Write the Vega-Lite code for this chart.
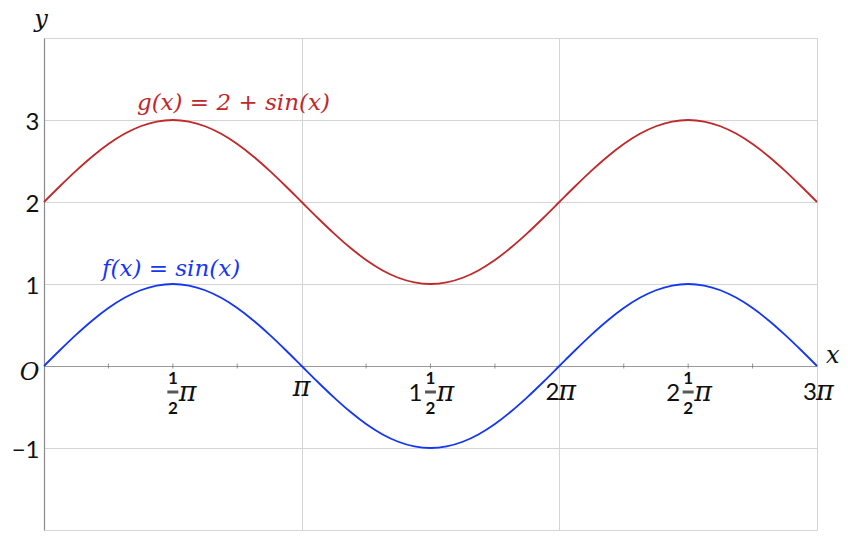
{
  "$schema": "https://vega.github.io/schema/vega-lite/v6.json",
  "width": 773,
  "height": 492,
  "autosize": "none",
  "padding": {"left": 44, "top": 38, "right": 31, "bottom": 14},
  "config": {"view": {"stroke": null}, "font": "Lato"},
  "datasets": {
    "curves": [
      {"fn": "f", "t": 0, "v": 0}, {"fn": "f", "t": 0.0625, "v": 0.1951}, {"fn": "f", "t": 0.125, "v": 0.3827}, {"fn": "f", "t": 0.1875, "v": 0.5556},
      {"fn": "f", "t": 0.25, "v": 0.7071}, {"fn": "f", "t": 0.3125, "v": 0.8315}, {"fn": "f", "t": 0.375, "v": 0.9239}, {"fn": "f", "t": 0.4375, "v": 0.9808},
      {"fn": "f", "t": 0.5, "v": 1}, {"fn": "f", "t": 0.5625, "v": 0.9808}, {"fn": "f", "t": 0.625, "v": 0.9239}, {"fn": "f", "t": 0.6875, "v": 0.8315},
      {"fn": "f", "t": 0.75, "v": 0.7071}, {"fn": "f", "t": 0.8125, "v": 0.5556}, {"fn": "f", "t": 0.875, "v": 0.3827}, {"fn": "f", "t": 0.9375, "v": 0.1951},
      {"fn": "f", "t": 1, "v": 0}, {"fn": "f", "t": 1.0625, "v": -0.1951}, {"fn": "f", "t": 1.125, "v": -0.3827}, {"fn": "f", "t": 1.1875, "v": -0.5556},
      {"fn": "f", "t": 1.25, "v": -0.7071}, {"fn": "f", "t": 1.3125, "v": -0.8315}, {"fn": "f", "t": 1.375, "v": -0.9239}, {"fn": "f", "t": 1.4375, "v": -0.9808},
      {"fn": "f", "t": 1.5, "v": -1}, {"fn": "f", "t": 1.5625, "v": -0.9808}, {"fn": "f", "t": 1.625, "v": -0.9239}, {"fn": "f", "t": 1.6875, "v": -0.8315},
      {"fn": "f", "t": 1.75, "v": -0.7071}, {"fn": "f", "t": 1.8125, "v": -0.5556}, {"fn": "f", "t": 1.875, "v": -0.3827}, {"fn": "f", "t": 1.9375, "v": -0.1951},
      {"fn": "f", "t": 2, "v": 0}, {"fn": "f", "t": 2.0625, "v": 0.1951}, {"fn": "f", "t": 2.125, "v": 0.3827}, {"fn": "f", "t": 2.1875, "v": 0.5556},
      {"fn": "f", "t": 2.25, "v": 0.7071}, {"fn": "f", "t": 2.3125, "v": 0.8315}, {"fn": "f", "t": 2.375, "v": 0.9239}, {"fn": "f", "t": 2.4375, "v": 0.9808},
      {"fn": "f", "t": 2.5, "v": 1}, {"fn": "f", "t": 2.5625, "v": 0.9808}, {"fn": "f", "t": 2.625, "v": 0.9239}, {"fn": "f", "t": 2.6875, "v": 0.8315},
      {"fn": "f", "t": 2.75, "v": 0.7071}, {"fn": "f", "t": 2.8125, "v": 0.5556}, {"fn": "f", "t": 2.875, "v": 0.3827}, {"fn": "f", "t": 2.9375, "v": 0.1951},
      {"fn": "f", "t": 3, "v": 0},
      {"fn": "g", "t": 0, "v": 2}, {"fn": "g", "t": 0.0625, "v": 2.1951}, {"fn": "g", "t": 0.125, "v": 2.3827}, {"fn": "g", "t": 0.1875, "v": 2.5556},
      {"fn": "g", "t": 0.25, "v": 2.7071}, {"fn": "g", "t": 0.3125, "v": 2.8315}, {"fn": "g", "t": 0.375, "v": 2.9239}, {"fn": "g", "t": 0.4375, "v": 2.9808},
      {"fn": "g", "t": 0.5, "v": 3}, {"fn": "g", "t": 0.5625, "v": 2.9808}, {"fn": "g", "t": 0.625, "v": 2.9239}, {"fn": "g", "t": 0.6875, "v": 2.8315},
      {"fn": "g", "t": 0.75, "v": 2.7071}, {"fn": "g", "t": 0.8125, "v": 2.5556}, {"fn": "g", "t": 0.875, "v": 2.3827}, {"fn": "g", "t": 0.9375, "v": 2.1951},
      {"fn": "g", "t": 1, "v": 2}, {"fn": "g", "t": 1.0625, "v": 1.8049}, {"fn": "g", "t": 1.125, "v": 1.6173}, {"fn": "g", "t": 1.1875, "v": 1.4444},
      {"fn": "g", "t": 1.25, "v": 1.2929}, {"fn": "g", "t": 1.3125, "v": 1.1685}, {"fn": "g", "t": 1.375, "v": 1.0761}, {"fn": "g", "t": 1.4375, "v": 1.0192},
      {"fn": "g", "t": 1.5, "v": 1}, {"fn": "g", "t": 1.5625, "v": 1.0192}, {"fn": "g", "t": 1.625, "v": 1.0761}, {"fn": "g", "t": 1.6875, "v": 1.1685},
      {"fn": "g", "t": 1.75, "v": 1.2929}, {"fn": "g", "t": 1.8125, "v": 1.4444}, {"fn": "g", "t": 1.875, "v": 1.6173}, {"fn": "g", "t": 1.9375, "v": 1.8049},
      {"fn": "g", "t": 2, "v": 2}, {"fn": "g", "t": 2.0625, "v": 2.1951}, {"fn": "g", "t": 2.125, "v": 2.3827}, {"fn": "g", "t": 2.1875, "v": 2.5556},
      {"fn": "g", "t": 2.25, "v": 2.7071}, {"fn": "g", "t": 2.3125, "v": 2.8315}, {"fn": "g", "t": 2.375, "v": 2.9239}, {"fn": "g", "t": 2.4375, "v": 2.9808},
      {"fn": "g", "t": 2.5, "v": 3}, {"fn": "g", "t": 2.5625, "v": 2.9808}, {"fn": "g", "t": 2.625, "v": 2.9239}, {"fn": "g", "t": 2.6875, "v": 2.8315},
      {"fn": "g", "t": 2.75, "v": 2.7071}, {"fn": "g", "t": 2.8125, "v": 2.5556}, {"fn": "g", "t": 2.875, "v": 2.3827}, {"fn": "g", "t": 2.9375, "v": 2.1951},
      {"fn": "g", "t": 3, "v": 2}
    ],
    "minor": [
      {"t": 0.25}, {"t": 0.5}, {"t": 0.75}, {"t": 1.25}, {"t": 1.5}, {"t": 1.75},
      {"t": 2.25}, {"t": 2.5}, {"t": 2.75}
    ],
    "xlab": [
      {"t": 0.5, "kind": "frac", "lead": "", "num": "1", "den": "2"},
      {"t": 1, "kind": "pi", "lead": ""},
      {"t": 1.5, "kind": "frac", "lead": "1", "num": "1", "den": "2"},
      {"t": 2, "kind": "mult", "lead": "2"},
      {"t": 2.5, "kind": "frac", "lead": "2", "num": "1", "den": "2"},
      {"t": 3, "kind": "mult", "lead": "3"}
    ],
    "names": [
      {"fn": "g", "t": 0.735, "v": 3.12, "label": "g(x) = 2 + sin(x)"},
      {"fn": "f", "t": 0.493, "v": 1.1, "label": "f(x) = sin(x)"}
    ],
    "letters": [
      {"name": "x", "t": 3, "v": 0},
      {"name": "y", "t": 0, "v": 4}
    ]
  },
  "layer": [
    {
      "data": {"name": "curves"},
      "mark": {"type": "line", "interpolate": "monotone", "strokeWidth": 1.8},
      "encoding": {
        "x": {
          "field": "t", "type": "quantitative",
          "scale": {"domain": [0, 3], "nice": false, "zero": false},
          "axis": {"values": [1, 2, 3], "grid": true, "gridColor": "#d4d4d4", "labels": false, "ticks": false, "domain": false, "title": null}
        },
        "y": {
          "field": "v", "type": "quantitative",
          "scale": {"domain": [-2, 4], "nice": false, "zero": false},
          "axis": {
            "values": [-2, -1, 0, 1, 2, 3, 4],
            "title": null,
            "grid": true,
            "gridColor": {"condition": {"test": "datum.value === 0", "value": "#9a9a9a"}, "value": "#d4d4d4"},
            "domain": true, "domainColor": "#8a8a8a", "domainWidth": 1.2,
            "ticks": false,
            "labelPadding": 5,
            "labelFontSize": 24,
            "labelColor": "#111111",
            "labelBaseline": "middle",
            "labelOffset": {"condition": {"test": "datum.value === 0", "value": 6}, "value": 2},
            "labelFont": {"condition": {"test": "datum.value === 0", "value": "DejaVu Serif"}, "value": "Lato"},
            "labelFontStyle": {"condition": {"test": "datum.value === 0", "value": "italic"}, "value": "normal"},
            "labelExpr": "datum.value === 4 || datum.value === -2 ? '' : datum.value === 0 ? 'O' : datum.value < 0 ? '\u2212' + abs(datum.value) : '' + datum.value"
          }
        },
        "color": {"field": "fn", "type": "nominal", "scale": {"domain": ["f", "g"], "range": ["#1436f5", "#c0282a"]}, "legend": null}
      }
    },
    {
      "data": {"name": "minor"},
      "mark": {"type": "tick", "orient": "vertical", "size": 5, "thickness": 1, "color": "#6a6a6a"},
      "encoding": {"x": {"field": "t", "type": "quantitative"}, "y": {"datum": 0}}
    },
    {
      "data": {"name": "xlab"},
      "transform": [{"filter": "datum.kind === 'frac'"}],
      "mark": {"type": "text", "font": "Lato", "fontSize": 17, "fontWeight": "bold", "align": "center", "baseline": "alphabetic", "dy": 18, "color": "#111111"},
      "encoding": {"x": {"field": "t", "type": "quantitative"}, "y": {"datum": 0}, "text": {"field": "num"}}
    },
    {
      "data": {"name": "xlab"},
      "transform": [{"filter": "datum.kind === 'frac'"}],
      "mark": {"type": "text", "font": "Lato", "fontSize": 17, "fontWeight": "bold", "align": "center", "baseline": "alphabetic", "dy": 48, "color": "#111111"},
      "encoding": {"x": {"field": "t", "type": "quantitative"}, "y": {"datum": 0}, "text": {"field": "den"}}
    },
    {
      "data": {"name": "xlab"},
      "transform": [{"filter": "datum.kind === 'frac'"}],
      "mark": {"type": "tick", "orient": "horizontal", "size": 11, "thickness": 3, "yOffset": 26, "color": "#111111"},
      "encoding": {"x": {"field": "t", "type": "quantitative"}, "y": {"datum": 0}}
    },
    {
      "data": {"name": "xlab"},
      "transform": [{"filter": "datum.kind === 'frac'"}],
      "mark": {"type": "text", "font": "Lato", "fontSize": 24, "align": "right", "baseline": "alphabetic", "dx": -8, "dy": 35, "color": "#111111"},
      "encoding": {"x": {"field": "t", "type": "quantitative"}, "y": {"datum": 0}, "text": {"field": "lead"}}
    },
    {
      "data": {"name": "xlab"},
      "transform": [{"filter": "datum.kind === 'frac'"}],
      "mark": {"type": "text", "text": "π", "font": "DejaVu Serif", "fontStyle": "italic", "fontSize": 27, "align": "left", "baseline": "alphabetic", "dx": 6, "dy": 35, "color": "#111111"},
      "encoding": {"x": {"field": "t", "type": "quantitative"}, "y": {"datum": 0}}
    },
    {
      "data": {"name": "xlab"},
      "transform": [{"filter": "datum.kind === 'pi'"}],
      "mark": {"type": "text", "text": "π", "font": "DejaVu Serif", "fontStyle": "italic", "fontSize": 27, "align": "center", "baseline": "alphabetic", "dy": 30, "color": "#111111"},
      "encoding": {"x": {"field": "t", "type": "quantitative"}, "y": {"datum": 0}}
    },
    {
      "data": {"name": "xlab"},
      "transform": [{"filter": "datum.kind === 'mult'"}],
      "mark": {"type": "text", "font": "Lato", "fontSize": 24, "align": "right", "baseline": "alphabetic", "dx": 0, "dy": 34, "color": "#111111"},
      "encoding": {"x": {"field": "t", "type": "quantitative"}, "y": {"datum": 0}, "text": {"field": "lead"}}
    },
    {
      "data": {"name": "xlab"},
      "transform": [{"filter": "datum.kind === 'mult'"}],
      "mark": {"type": "text", "text": "π", "font": "DejaVu Serif", "fontStyle": "italic", "fontSize": 27, "align": "left", "baseline": "alphabetic", "dx": -1, "dy": 34, "color": "#111111"},
      "encoding": {"x": {"field": "t", "type": "quantitative"}, "y": {"datum": 0}}
    },
    {
      "data": {"name": "names"},
      "mark": {"type": "text", "font": "DejaVu Serif", "fontStyle": "italic", "fontSize": 23, "align": "center", "baseline": "alphabetic"},
      "encoding": {
        "x": {"field": "t", "type": "quantitative"},
        "y": {"field": "v", "type": "quantitative"},
        "text": {"field": "label"},
        "color": {"field": "fn", "type": "nominal"}
      }
    },
    {
      "data": {"name": "letters"},
      "transform": [{"filter": "datum.name === 'x'"}],
      "mark": {"type": "text", "font": "DejaVu Serif", "fontStyle": "italic", "fontSize": 24, "align": "left", "baseline": "alphabetic", "dx": 9, "dy": -3, "color": "#111111"},
      "encoding": {"x": {"field": "t", "type": "quantitative"}, "y": {"field": "v", "type": "quantitative"}, "text": {"field": "name"}}
    },
    {
      "data": {"name": "letters"},
      "transform": [{"filter": "datum.name === 'y'"}],
      "mark": {"type": "text", "font": "DejaVu Serif", "fontStyle": "italic", "fontSize": 24, "align": "center", "baseline": "alphabetic", "dx": -3, "dy": -11, "color": "#111111"},
      "encoding": {"x": {"field": "t", "type": "quantitative"}, "y": {"field": "v", "type": "quantitative"}, "text": {"field": "name"}}
    }
  ]
}
